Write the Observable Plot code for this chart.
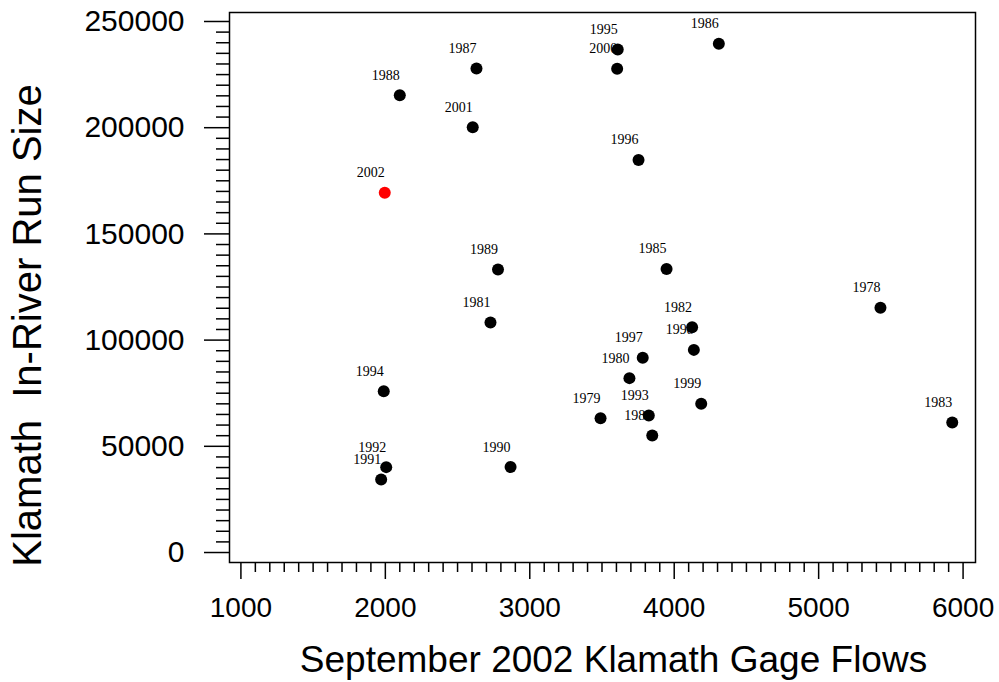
<!DOCTYPE html>
<html><head><meta charset="utf-8">
<script src="https://cdn.jsdelivr.net/npm/d3@7"></script>
<script src="https://cdn.jsdelivr.net/npm/@observablehq/plot@0.6"></script>
<style>body{margin:0;background:#fff} svg{display:block}</style>
</head><body><div id="chart"></div>
<script>
const years    = [1978, 1979, 1980, 1981, 1982, 1983, 1984, 1985, 1986, 1987, 1988, 1989, 1990, 1991, 1992, 1993, 1994, 1995, 1996, 1997, 1998, 1999, 2000, 2001, 2002];
const flows    = [5428, 3490, 3690, 2728, 4124, 5925, 3848, 3947, 4309, 2631, 2100, 2780, 2867, 1971, 2006, 3824, 1989, 3609, 3753, 3782, 4136, 4187, 3605, 2605, 1996];
const runSizes = [115200, 63200, 82100, 108300, 106100, 61200, 55100, 133500, 239500, 227900, 215300, 133200, 40250, 34400, 40200, 64500, 75900, 236800, 184800, 91700, 95400, 70000, 227700, 200200, 169400];
const highlightYear = 2002;
const xTickValues = [1000, 2000, 3000, 4000, 5000, 6000];
const yTickValues = [0, 50000, 100000, 150000, 200000, 250000];
const xTitle = "September 2002 Klamath Gage Flows";
const yTitle = "Klamath  In-River Run Size";

const data = years.map((y, i) => ({year: y, flow: flows[i], run: runSizes[i]}));
const xMinor = d3.range(1000, 6001, 100).filter(v => !xTickValues.includes(v));
const yMinor = d3.range(0, 250001, 5000).filter(v => !yTickValues.includes(v));
const sans = "'Liberation Sans', Arial, sans-serif";
const serif = "'Liberation Serif', 'Times New Roman', serif";

const chart = Plot.plot({
  width: 999, height: 682,
  marginLeft: 229, marginRight: 24, marginTop: 12, marginBottom: 120,
  style: {background: "white", fontFamily: sans, color: "black"},
  x: {domain: [921, 6086]},
  y: {domain: [-4700, 254232]},
  marks: [
    Plot.axisY(yMinor, {tickSize: 13, fill: "none", strokeWidth: 1.5, label: null}),
    Plot.axisY(yTickValues, {tickSize: 25, tickPadding: 20, fontSize: 30, strokeWidth: 1.5, label: null, tickFormat: d => String(d)}),
    Plot.axisX(xMinor, {tickSize: 10, fill: "none", strokeWidth: 1.5, label: null}),
    Plot.axisX(xTickValues, {tickSize: 17, tickPadding: 18, fontSize: 28, strokeWidth: 1.5, label: null, tickFormat: d => String(d)}),
    Plot.frame({stroke: "black", strokeWidth: 1.5}),
    Plot.text(data, {x: "flow", y: "run", text: d => String(d.year), dx: -14, dy: -20, fontFamily: serif, fontSize: 14, fill: "black"}),
    Plot.dot(data.filter(d => d.year !== highlightYear), {x: "flow", y: "run", r: 6, fill: "black", stroke: "none"}),
    Plot.dot(data.filter(d => d.year === highlightYear), {x: "flow", y: "run", r: 6, fill: "red", stroke: "none"}),
    Plot.text([xTitle], {frameAnchor: "bottom", textAnchor: "middle", lineAnchor: "middle", dx: 11, dy: 98, fontSize: 37, fill: "black"}),
    Plot.text([yTitle], {frameAnchor: "left", textAnchor: "middle", lineAnchor: "middle", dx: -201, dy: 38, rotate: -90, fontSize: 40, fill: "black"})
  ]
});
document.getElementById("chart").appendChild(chart);
</script>
</body></html>
